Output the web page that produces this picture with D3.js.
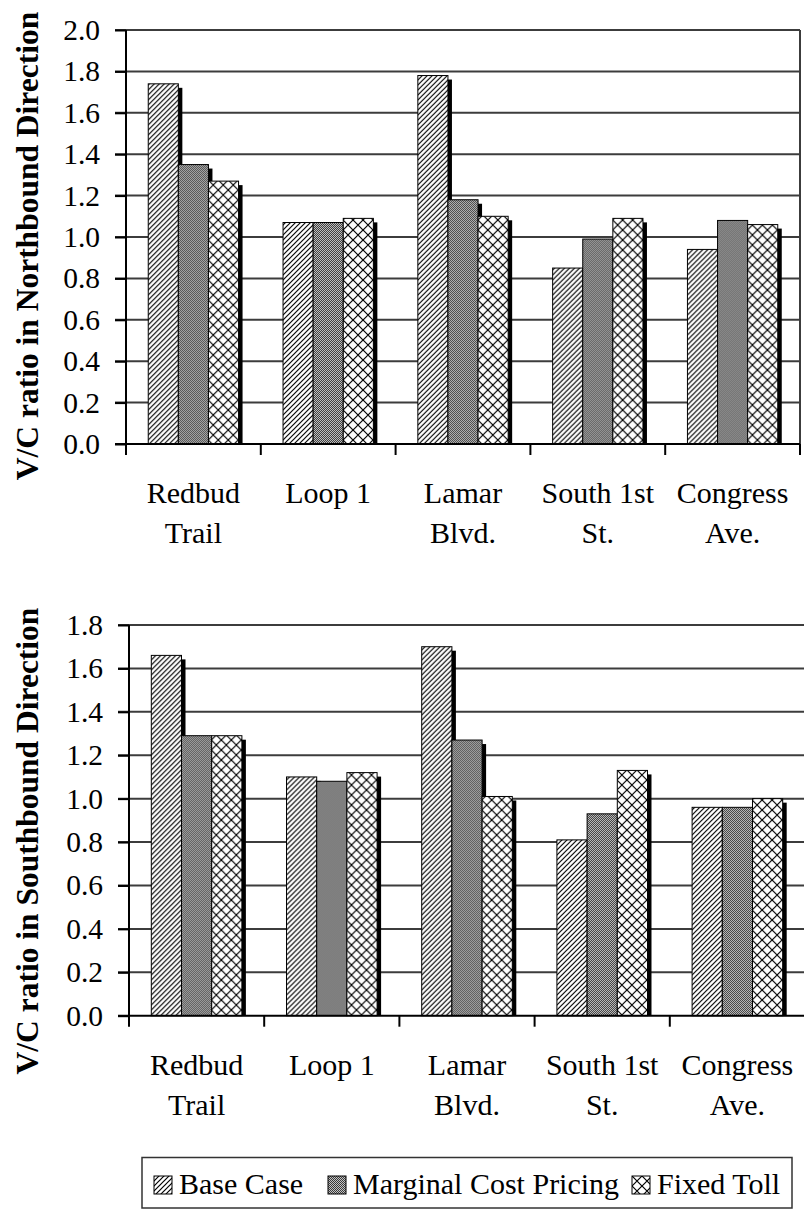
<!DOCTYPE html>
<html>
<head>
<meta charset="utf-8">
<script src="https://cdn.jsdelivr.net/npm/d3@7"></script>
<style>
  html, body { margin: 0; padding: 0; background: #fff; }
  svg { display: block; }
  svg text { font-family: "Liberation Serif", Tinos, "Times New Roman", Times, "DejaVu Serif", serif !important; fill: #000; }
</style>
</head>
<body>
<svg id="chart" width="804" height="1209"></svg>
<script>
// Corridors (two-line category labels)
const categoryLine1 = ["Redbud", "Loop 1", "Lamar", "South 1st", "Congress"];
const categoryLine2 = ["Trail", "", "Blvd.", "St.", "Ave."];
const seriesNames = ["Base Case", "Marginal Cost Pricing", "Fixed Toll"];

// V/C ratios, northbound
const northBase  = [1.74, 1.07, 1.78, 0.85, 0.94];
const northMCP   = [1.35, 1.07, 1.18, 0.99, 1.08];
const northFixed = [1.27, 1.09, 1.10, 1.09, 1.06];

// V/C ratios, southbound
const southBase  = [1.66, 1.10, 1.70, 0.81, 0.96];
const southMCP   = [1.29, 1.08, 1.27, 0.93, 0.96];
const southFixed = [1.29, 1.12, 1.01, 1.13, 1.00];

const northTicks = [0.0, 0.2, 0.4, 0.6, 0.8, 1.0, 1.2, 1.4, 1.6, 1.8, 2.0];
const northTickLabels = ["0.0", "0.2", "0.4", "0.6", "0.8", "1.0", "1.2", "1.4", "1.6", "1.8", "2.0"];
const southTicks = [0.0, 0.2, 0.4, 0.6, 0.8, 1.0, 1.2, 1.4, 1.6, 1.8];
const southTickLabels = ["0.0", "0.2", "0.4", "0.6", "0.8", "1.0", "1.2", "1.4", "1.6", "1.8"];

const FONT = "'Liberation Serif', Tinos, 'Times New Roman', Times, 'DejaVu Serif', serif";

const svg = d3.select("#chart");
const defs = svg.append("defs");

// Fill patterns: diagonal hatch, dark checker, diagonal cross-hatch
const hatch = defs.append("pattern").attr("id", "pat-base")
  .attr("patternUnits", "userSpaceOnUse").attr("width", 5).attr("height", 5);
hatch.append("rect").attr("width", 5).attr("height", 5).attr("fill", "#fff");
hatch.append("path").attr("d", "M0,5 L5,0 M-1,1 L1,-1 M4,6 L6,4")
  .attr("stroke", "#000").attr("stroke-width", 1.2);

const checker = defs.append("pattern").attr("id", "pat-mcp")
  .attr("patternUnits", "userSpaceOnUse").attr("width", 2).attr("height", 2);
checker.append("rect").attr("width", 2).attr("height", 2).attr("fill", "#c4c4c4");
checker.append("rect").attr("width", 1).attr("height", 1).attr("fill", "#3a3a3a");
checker.append("rect").attr("x", 1).attr("y", 1).attr("width", 1).attr("height", 1).attr("fill", "#3a3a3a");

const cross = defs.append("pattern").attr("id", "pat-fixed")
  .attr("patternUnits", "userSpaceOnUse").attr("width", 10).attr("height", 10);
cross.append("rect").attr("width", 10).attr("height", 10).attr("fill", "#fff");
cross.append("path").attr("d", "M0,0 L10,10 M10,0 L0,10")
  .attr("stroke", "#000").attr("stroke-width", 1.2);

const fills = ["url(#pat-base)", "url(#pat-mcp)", "url(#pat-fixed)"];

function drawPanel(cfg) {
  const g = svg.append("g");
  const keys = categoryLine1;

  const x0 = d3.scaleBand().domain(keys).range([cfg.left, cfg.right])
    .paddingInner(0.33).paddingOuter(0.165);
  const x1 = d3.scaleBand().domain(seriesNames).range([0, x0.bandwidth()]);
  const xBound = d3.scaleBand().domain(keys).range([cfg.left, cfg.right]);
  const y = d3.scaleLinear().domain([0, cfg.yMax]).range([cfg.bottom, cfg.top]);

  // horizontal gridlines
  g.append("g").selectAll("line").data(cfg.ticks.filter(t => t > 0)).join("line")
    .attr("x1", cfg.left - 11).attr("x2", cfg.right)
    .attr("y1", d => y(d)).attr("y2", d => y(d))
    .attr("stroke", "#3c3c3c").attr("stroke-width", 2);

  if (cfg.frame) {
    g.append("line").attr("x1", cfg.right).attr("x2", cfg.right)
      .attr("y1", cfg.top).attr("y2", cfg.bottom + 11)
      .attr("stroke", "#3c3c3c").attr("stroke-width", 2);
  }

  // bars with drop shadows
  const rows = keys.map((k, i) => ({
    key: k,
    vals: cfg.values.map((arr, s) => ({ s, name: seriesNames[s], v: arr[i] }))
  }));
  const groups = g.append("g").selectAll("g").data(rows).join("g")
    .attr("transform", d => `translate(${x0(d.key)},0)`);
  groups.selectAll("rect.shadow").data(d => d.vals).join("rect")
    .attr("class", "shadow")
    .attr("x", d => x1(d.name) + 4)
    .attr("y", d => y(d.v) + 4)
    .attr("width", x1.bandwidth())
    .attr("height", d => Math.max(0, y(0) - y(d.v) - 4))
    .attr("fill", "#000");
  groups.selectAll("rect.bar").data(d => d.vals).join("rect")
    .attr("class", "bar")
    .attr("x", d => x1(d.name))
    .attr("y", d => y(d.v))
    .attr("width", x1.bandwidth())
    .attr("height", d => y(0) - y(d.v))
    .attr("fill", d => fills[d.s])
    .attr("stroke", "#000").attr("stroke-width", 1);

  // y axis
  const yAxis = d3.axisLeft(y).tickValues(cfg.ticks)
    .tickFormat((d, i) => cfg.tickLabels[i]).tickSize(11).tickPadding(15).tickSizeOuter(0);
  const ya = g.append("g").attr("transform", `translate(${cfg.left},0)`).call(yAxis)
    .attr("font-family", FONT).attr("font-size", 29.5);
  ya.select(".domain").remove();
  ya.selectAll(".tick line").attr("stroke", "#000").attr("stroke-width", 2);
  ya.selectAll(".tick text").attr("font-size", 29.5).attr("font-family", FONT);
  g.append("line").attr("x1", cfg.left).attr("x2", cfg.left)
    .attr("y1", cfg.top).attr("y2", cfg.bottom + 11)
    .attr("stroke", "#000").attr("stroke-width", 2);

  // x axis with category boundary ticks
  const bounds = keys.map(k => xBound(k)).concat([cfg.right]);
  g.append("line").attr("x1", cfg.left - 11).attr("x2", cfg.right)
    .attr("y1", cfg.bottom).attr("y2", cfg.bottom)
    .attr("stroke", "#000").attr("stroke-width", 2);
  g.append("g").selectAll("line").data(bounds.slice(1)).join("line")
    .attr("x1", d => d).attr("x2", d => d)
    .attr("y1", cfg.bottom).attr("y2", cfg.bottom + 11)
    .attr("stroke", "#000").attr("stroke-width", 2);

  // category labels
  const lab = g.append("g").selectAll("text").data(keys).join("text")
    .attr("x", k => xBound(k) + xBound.bandwidth() / 2)
    .attr("y", cfg.bottom + 59)
    .attr("text-anchor", "middle").attr("font-size", 30).attr("font-family", FONT);
  lab.append("tspan").text(k => k);
  lab.append("tspan")
    .attr("x", k => xBound(k) + xBound.bandwidth() / 2)
    .attr("dy", 40)
    .text((k, i) => categoryLine2[i]);

  // y title
  g.append("text")
    .attr("transform", `translate(38,${cfg.titleY}) rotate(-90)`)
    .attr("text-anchor", "middle")
    .attr("font-size", 31.5).attr("font-weight", "bold").attr("font-family", FONT)
    .text(cfg.title);
}

drawPanel({
  left: 126, right: 800, top: 30, bottom: 444, yMax: 2.0,
  ticks: northTicks, tickLabels: northTickLabels,
  values: [northBase, northMCP, northFixed],
  title: "V/C ratio in Northbound Direction", titleY: 246, frame: true
});

drawPanel({
  left: 129, right: 805, top: 625, bottom: 1015.7, yMax: 1.8,
  ticks: southTicks, tickLabels: southTickLabels,
  values: [southBase, southMCP, southFixed],
  title: "V/C ratio in Southbound Direction", titleY: 841, frame: false
});

// legend
const legend = svg.append("g");
legend.append("rect").attr("x", 142).attr("y", 1157.5).attr("width", 650).attr("height", 50.5)
  .attr("fill", "#fff").attr("stroke", "#333").attr("stroke-width", 1.5);
const legendX = [154, 328, 632];
const items = legend.selectAll("g.item").data(seriesNames).join("g")
  .attr("class", "item")
  .attr("transform", (d, i) => `translate(${legendX[i]},1176)`);
items.append("rect").attr("width", 18).attr("height", 18)
  .attr("fill", (d, i) => fills[i]).attr("stroke", "#000").attr("stroke-width", 1);
items.append("text").attr("x", 25).attr("y", 18).attr("font-size", 30).attr("font-family", FONT)
  .text(d => d);
</script>
</body>
</html>
